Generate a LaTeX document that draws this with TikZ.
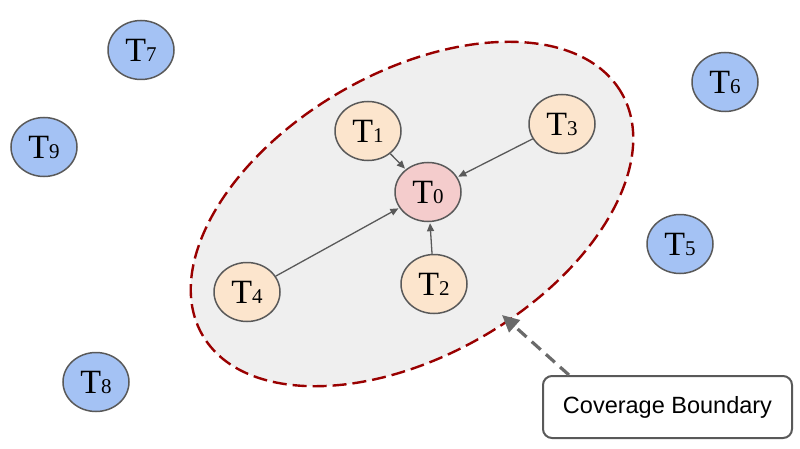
\documentclass[tikz,border=0pt]{standalone}
\usepackage{fontspec}
\setmainfont{Liberation Serif}
\newfontfamily\labelsans{Liberation Sans}
\usetikzlibrary{arrows.meta,shapes.geometric}
\definecolor{bluefill}{HTML}{A4C2F4}
\definecolor{peach}{HTML}{FCE5CD}
\definecolor{pinkfill}{HTML}{F4CCCC}
\definecolor{edgegray}{HTML}{595959}
\definecolor{zonefill}{HTML}{EFEFEF}
\definecolor{zoneline}{HTML}{990000}
\newcommand{\tlab}[1]{{\fontsize{34}{34}\selectfont T}{\fontsize{21}{21}\selectfont #1}}
\tikzset{
  task/.style={ellipse, draw=edgegray, line width=1.5pt, minimum width=66pt, minimum height=59pt, inner sep=0pt},
  far/.style={task, fill=bluefill},
  near/.style={task, fill=peach},
  hub/.style={task, fill=pinkfill},
  link/.style={draw=edgegray, line width=1.3pt, -{Triangle[length=8pt,width=7pt]}, shorten >=1pt},
  pointer/.style={draw=edgegray!90, line width=3.2pt, dash pattern=on 12pt off 7pt, -{Triangle[length=17pt,width=16pt]}},
  zone/.style={draw=zoneline, fill=zonefill, line width=2.4pt, dash pattern=on 14pt off 6pt},
  callout/.style={draw=edgegray, line width=2pt, rounded corners=9pt, fill=white, minimum width=249pt, minimum height=62pt, font=\labelsans\fontsize{23.5}{24}\selectfont}
}
\begin{document}
\begin{tikzpicture}[x=1pt,y=1pt]
\useasboundingbox (0,0) rectangle (800,448);
% coverage boundary
\draw[zone] (412,234) ellipse[x radius=242, y radius=141.5, rotate=30];
% nodes (y = 448 - pixel y)
\node[far] (t7) at (141,398) {\tlab{7}};
\node[far] (t9) at (44,301) {\tlab{9}};
\node[far] (t6) at (725,366) {\tlab{6}};
\node[far] (t5) at (680,204) {\tlab{5}};
\node[far] (t8) at (96,66) {\tlab{8}};
\node[near] (t1) at (368,317) {\tlab{1}};
\node[near] (t3) at (562,324) {\tlab{3}};
\node[hub] (t0) at (428,256) {\tlab{0}};
\node[near] (t4) at (247,156) {\tlab{4}};
\node[near] (t2) at (434,164) {\tlab{2}};
\draw[link] (t1) -- (t0);
\draw[link] (t3) -- (t0);
\draw[link] (t4) -- (t0);
\draw[link] (t2) -- (t0);
% callout
\node[callout] (cb) at (667.5,41) {Coverage Boundary};
\coordinate (edge) at (502,133);
\draw[pointer] (569,73) -- (edge);
\end{tikzpicture}
\end{document}
